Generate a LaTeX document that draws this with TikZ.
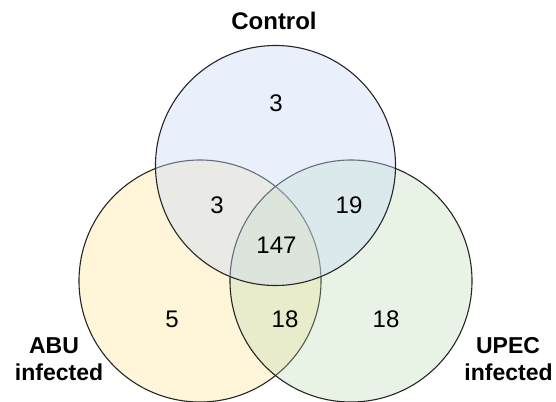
\documentclass[tikz,border=0pt]{standalone}
\usepackage{fontspec}
\setmainfont{Liberation Sans}
\begin{document}
\begin{tikzpicture}[x=1pt,y=1pt,
  venn/.style={circle, draw=black!85, line width=1.1pt, inner sep=0pt, outer sep=0pt, minimum size=242pt},
  num/.style={anchor=base, inner sep=0pt, font=\fontsize{24}{28}\selectfont},
  lbl/.style={anchor=base, inner sep=0pt, font=\fontsize{23}{27}\selectfont\bfseries}]
\definecolor{cblue}{HTML}{C9DAF8}
\definecolor{cyel}{HTML}{FFE599}
\definecolor{cgrn}{HTML}{B6D7A8}
\useasboundingbox (0,0) rectangle (556,-401);
\begin{scope}
\clip (0,0) rectangle (556,-401);
\node[venn, fill=cyel, fill opacity=0.37] (abu) at (200,-281) {};
\node[venn, fill=cgrn, fill opacity=0.30] (upec) at (351,-281) {};
\node[venn, fill=cblue, fill opacity=0.40, minimum size=240pt] (ctrl) at (275.5,-165.5) {};
\end{scope}
\node[lbl, font=\fontsize{24}{28}\selectfont\bfseries] (tctrl) at (274,-29.5) {Control};
\node[lbl] (tabu1) at (54,-353) {ABU};
\node[lbl] (tabu2) at (59,-380) {infected};
\node[lbl] (tupec1) at (508,-353) {UPEC};
\node[lbl] (tupec2) at (508.5,-380) {infected};
\node[num] (n1) at (276,-111.5) {3};
\node[num] (n2) at (217,-213) {3};
\node[num] (n3) at (349,-213) {19};
\node[num] (n4) at (276.5,-253) {147};
\node[num] (n5) at (172,-327.5) {5};
\node[num] (n6) at (285,-327.5) {18};
\node[num] (n7) at (386,-327.5) {18};
\end{tikzpicture}
\end{document}
